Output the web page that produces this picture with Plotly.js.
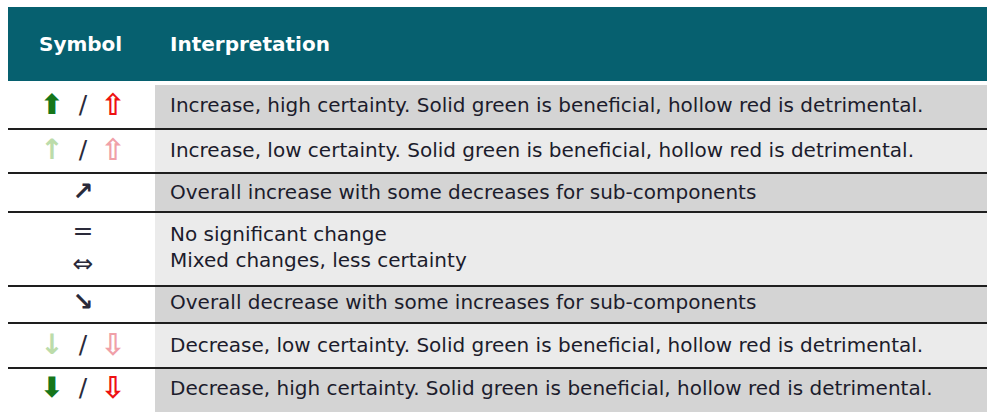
<!DOCTYPE html>
<html><head><meta charset="utf-8">
<script src="https://cdn.plot.ly/plotly-3.0.1.min.js"></script>
<style>html,body{margin:0;padding:0;background:#fff}#c{width:987px;height:412px}</style>
</head><body><div id="c"></div>
<script>
// ---- data ----
const headers = ['Symbol', 'Interpretation'];
const interpretations = [
  'Increase, high certainty. Solid green is beneficial, hollow red is detrimental.',
  'Increase, low certainty. Solid green is beneficial, hollow red is detrimental.',
  'Overall increase with some decreases for sub-components',
  'No significant change<br>Mixed changes, less certainty',
  'Overall decrease with some increases for sub-components',
  'Decrease, low certainty. Solid green is beneficial, hollow red is detrimental.',
  'Decrease, high certainty. Solid green is beneficial, hollow red is detrimental.'
];
const symGreen = ['⬆', '↑', '', '', '', '↓', '⬇'];
const symMid   = ['/', '/', '<b>↗</b>', '=<br>⇔', '<b>↘</b>', '/', '/'];
const symRed   = ['⇧', '⇧', '', '', '', '⇩', '⇩'];

// ---- layout constants ----
const rowEdges = [85, 129, 173, 212, 286, 323, 368, 412];
const textY = [107, 152, 194, 249, 304, 347, 390];
const greenCol = ['#16761a', '#bcdcaa', '', '', '', '#bcdcaa', '#16761a'];
const redCol = ['#ee1111', '#f0a0a8', '', '', '', '#f0a0a8', '#ee1111'];
const fills = ['#d4d4d4', '#ebebeb', '#d4d4d4', '#ebebeb', '#d4d4d4', '#ebebeb', '#d4d4d4'];

const shapes = [];
shapes.push({type:'rect', xref:'x', yref:'y', x0:8, x1:987, y0:7, y1:81, fillcolor:'#06606f', line:{width:0}, layer:'below'});
for (let i = 0; i < interpretations.length; i++) {
  shapes.push({type:'rect', xref:'x', yref:'y', x0:155, x1:987, y0:rowEdges[i], y1:rowEdges[i+1], fillcolor:fills[i], line:{width:0}, layer:'below'});
}
for (let i = 1; i < rowEdges.length - 1; i++) {
  shapes.push({type:'line', xref:'x', yref:'y', x0:8, x1:987, y0:rowEdges[i], y1:rowEdges[i], line:{color:'#1e1e1e', width:2}});
}

const font = 'DejaVu Sans, Arial, sans-serif';
const traces = [
  {type:'scatter', mode:'text', x:[39, 170], y:[46, 46], text:headers.map(h => '<b>' + h + '</b>'),
   textposition:'middle right', textfont:{family:font, size:20, color:'#ffffff'}, hoverinfo:'skip'},
  {type:'scatter', mode:'text', x:interpretations.map(() => 170), y:textY, text:interpretations,
   textposition:'middle right', textfont:{family:font, size:20, color:'#1c1c2c'}, hoverinfo:'skip'},
  {type:'scatter', mode:'text', x:interpretations.map(() => 83), y:textY, text:symMid,
   textposition:'middle center', textfont:{family:font, size:25, color:'#2a2a3a'}, hoverinfo:'skip'},
  {type:'scatter', mode:'text', x:interpretations.map(() => 52), y:textY, text:symGreen.map(s => s ? '<b>' + s + '</b>' : ''),
   textposition:'middle center', textfont:{family:font, size:28, color:greenCol}, hoverinfo:'skip'},
  {type:'scatter', mode:'text', x:interpretations.map(() => 113), y:textY, text:symRed.map(s => s ? '<b>' + s + '</b>' : ''),
   textposition:'middle center', textfont:{family:font, size:30, color:redCol}, hoverinfo:'skip'}
];

const layout = {
  width:987, height:412, margin:{l:0, r:0, t:0, b:0},
  paper_bgcolor:'#ffffff', plot_bgcolor:'#ffffff', showlegend:false,
  xaxis:{range:[0, 987], visible:false, fixedrange:true},
  yaxis:{range:[412, 0], visible:false, fixedrange:true},
  shapes:shapes
};
Plotly.newPlot('c', traces, layout, {displayModeBar:false, staticPlot:true});
</script></body></html>
